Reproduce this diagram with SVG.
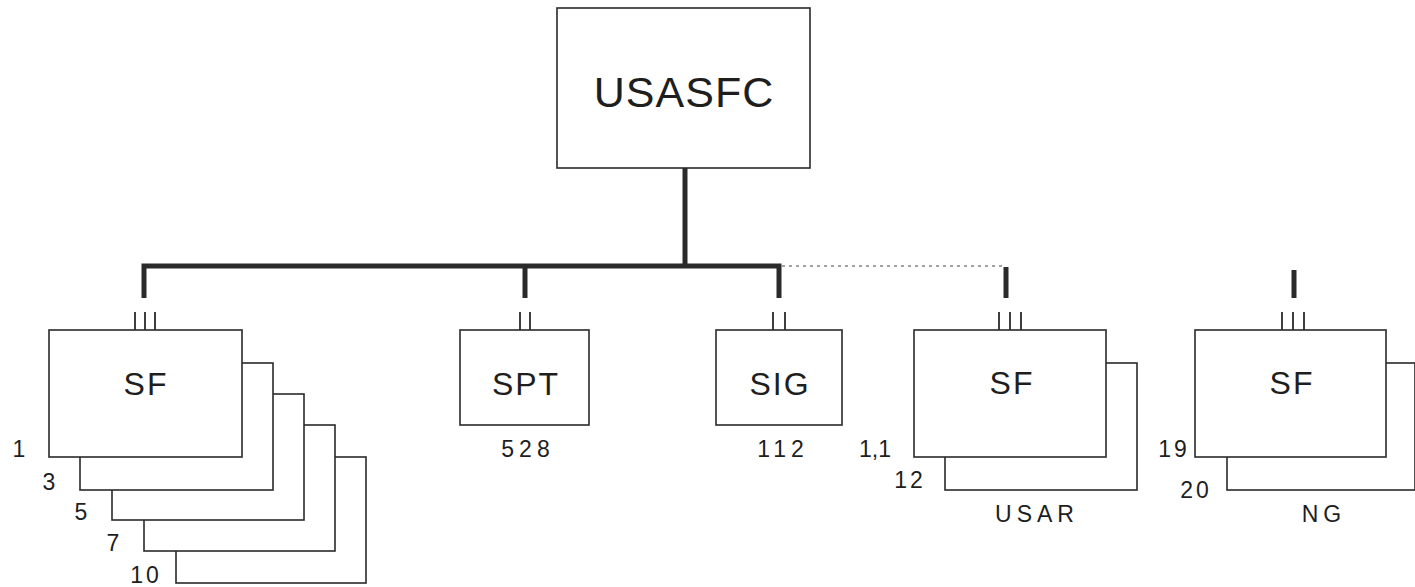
<svg xmlns="http://www.w3.org/2000/svg" width="1415" height="587" viewBox="0 0 1415 587">
<style>
.box{fill:#fff;stroke:#2a2a2a;stroke-width:1.6}
.thick{stroke:#2a2a2a;stroke-width:5;fill:none}
.tick{stroke:#2a2a2a;stroke-width:1.8}
.dot{stroke:#444;stroke-width:1.2;stroke-dasharray:3,4;fill:none}
text{font-family:"Liberation Sans",Arial,sans-serif;fill:#1e1e1e}
.big{font-size:43px;letter-spacing:1px}
.lbl{font-size:32px;letter-spacing:2px}
.num{font-size:23px}
.sub{font-size:23px;letter-spacing:5px}
</style>
<rect width="1415" height="587" fill="#fff"/>
<g id="connectors">
  <polyline class="thick" points="685,168 685,266"/>
  <polyline class="thick" points="144,298 144,266 779,266 779,298"/>
  <line class="thick" x1="525" y1="266" x2="525" y2="298"/>
  <line class="dot" x1="782" y1="266" x2="1004" y2="266"/>
  <line class="thick" x1="1006" y1="267" x2="1006" y2="298"/>
  <line class="thick" x1="1294" y1="270" x2="1294" y2="298"/>
</g>
<g id="usasfc">
  <rect class="box" x="557" y="8" width="253" height="160"/>
  <text class="big" x="684" y="107" text-anchor="middle">USASFC</text>
</g>
<g id="sf-active">
  <rect class="box" x="176" y="457" width="190" height="126"/>
  <rect class="box" x="144" y="425" width="191" height="126"/>
  <rect class="box" x="112" y="394" width="192" height="126"/>
  <rect class="box" x="80" y="363" width="193" height="127"/>
  <rect class="box" x="49" y="330" width="193" height="127"/>
  <line class="tick" x1="135" y1="312" x2="135" y2="330"/>
  <line class="tick" x1="145" y1="312" x2="145" y2="330"/>
  <line class="tick" x1="155" y1="312" x2="155" y2="330"/>
  <text class="lbl" x="146" y="395" text-anchor="middle">SF</text>
  <text class="num" x="19" y="457" text-anchor="middle">1</text>
  <text class="num" x="49" y="490" text-anchor="middle">3</text>
  <text class="num" x="81" y="520" text-anchor="middle">5</text>
  <text class="num" x="113" y="551" text-anchor="middle">7</text>
  <text class="num" x="146" y="583" text-anchor="middle" letter-spacing="3">10</text>
</g>
<g id="spt">
  <rect class="box" x="460" y="330" width="129" height="95"/>
  <line class="tick" x1="520" y1="312" x2="520" y2="330"/>
  <line class="tick" x1="530" y1="312" x2="530" y2="330"/>
  <text class="lbl" x="526" y="395" text-anchor="middle">SPT</text>
  <text class="sub" x="528" y="457" text-anchor="middle">528</text>
</g>
<g id="sig">
  <rect class="box" x="716" y="330" width="126" height="95"/>
  <line class="tick" x1="773" y1="312" x2="773" y2="330"/>
  <line class="tick" x1="785" y1="312" x2="785" y2="330"/>
  <text class="lbl" x="780" y="395" text-anchor="middle">SIG</text>
  <text class="sub" x="783" y="457" text-anchor="middle">112</text>
</g>
<g id="sf-usar">
  <rect class="box" x="945" y="363" width="192" height="127"/>
  <rect class="box" x="914" y="330" width="192" height="127"/>
  <line class="tick" x1="999" y1="312" x2="999" y2="330"/>
  <line class="tick" x1="1010" y1="312" x2="1010" y2="330"/>
  <line class="tick" x1="1021" y1="312" x2="1021" y2="330"/>
  <text class="lbl" x="1012" y="394" text-anchor="middle">SF</text>
  <text class="num" x="875" y="457" text-anchor="middle">1,1</text>
  <text class="num" x="910" y="488" text-anchor="middle" letter-spacing="3">12</text>
  <text class="sub" x="1037" y="522" text-anchor="middle" letter-spacing="4">USAR</text>
</g>
<g id="sf-ng">
  <rect class="box" x="1227" y="363" width="188" height="127"/>
  <rect class="box" x="1195" y="330" width="191" height="127"/>
  <line class="tick" x1="1282" y1="312" x2="1282" y2="330"/>
  <line class="tick" x1="1293" y1="312" x2="1293" y2="330"/>
  <line class="tick" x1="1304" y1="312" x2="1304" y2="330"/>
  <text class="lbl" x="1292" y="394" text-anchor="middle">SF</text>
  <text class="num" x="1174" y="457" text-anchor="middle" letter-spacing="3">19</text>
  <text class="num" x="1196" y="498" text-anchor="middle" letter-spacing="3">20</text>
  <text class="sub" x="1324" y="522" text-anchor="middle" letter-spacing="6">NG</text>
</g>
</svg>
